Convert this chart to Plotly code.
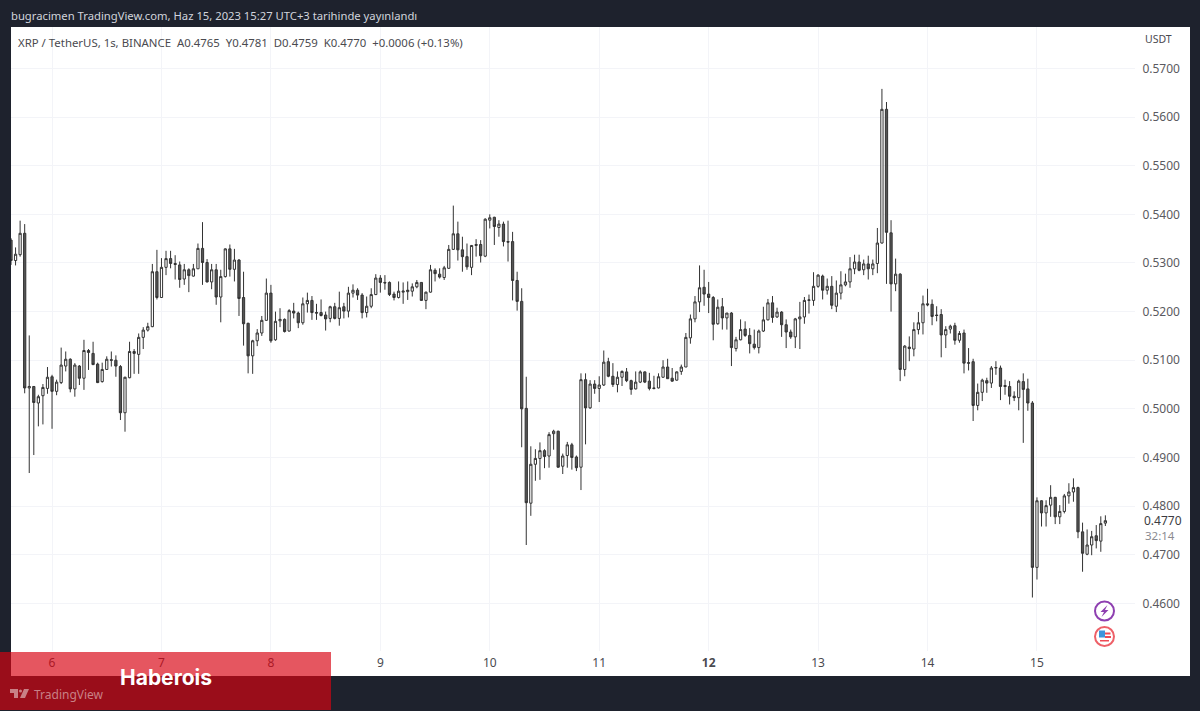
import pandas as pd
import plotly.graph_objects as go

# Hourly XRP/USDT candles, 5 Jun 2023 15:00 .. 15 Jun 2023 15:00
start_time = "2023-06-05 15:00"
open_ = [
0.5347,0.5305,0.5317,0.5361,0.5043,0.5046,0.5012,0.5027,0.5042,
0.5066,0.5036,0.5054,0.5088,0.5102,0.5041,0.5088,0.5063,0.5120,0.5114,0.5092,0.5056,0.5081,0.5101,0.5100,0.5087,0.4992,0.5064,0.5118,0.5112,0.5147,0.5162,0.5169,0.5282,
0.5229,0.5291,0.5309,0.5299,0.5296,0.5267,0.5286,0.5273,0.5288,0.5330,0.5301,0.5261,0.5286,0.5230,0.5272,0.5329,0.5287,0.5306,0.5229,0.5176,0.5109,0.5140,0.5156,0.5182,
0.5238,0.5142,0.5181,0.5184,0.5160,0.5201,0.5197,0.5177,0.5216,0.5223,0.5198,0.5198,0.5193,0.5186,0.5210,0.5186,0.5210,0.5201,0.5238,0.5244,0.5234,0.5198,0.5211,0.5235,
0.5269,0.5260,0.5260,0.5236,0.5229,0.5240,0.5241,0.5242,0.5251,0.5260,0.5223,0.5240,0.5285,0.5277,0.5270,0.5289,0.5328,0.5360,0.5327,0.5313,0.5291,0.5336,0.5338,0.5314,
0.5388,0.5394,0.5373,0.5380,0.5344,0.5344,0.5264,0.5221,0.5001,0.4806,0.4886,0.4898,0.4914,0.4903,0.4949,0.4954,0.4882,0.4904,0.4926,0.4901,0.4880,0.5060,0.5002,0.5051,
0.5042,0.5049,0.5097,0.5067,0.5050,0.5065,0.5076,0.5058,0.5041,0.5055,0.5076,0.5057,0.5043,0.5043,0.5065,0.5086,0.5063,0.5059,0.5077,0.5086,0.5146,0.5185,0.5220,0.5250,
0.5236,0.5229,0.5175,0.5210,0.5187,0.5197,0.5124,0.5142,0.5164,0.5151,0.5133,0.5126,0.5160,0.5183,0.5218,0.5189,0.5199,0.5173,0.5158,0.5148,0.5185,0.5189,0.5223,0.5223,
0.5252,0.5273,0.5244,0.5252,0.5211,0.5238,0.5255,0.5261,0.5288,0.5302,0.5286,0.5298,0.5288,0.5299,0.5341,0.5616,0.5362,0.5257,0.5277,0.5081,0.5127,0.5123,0.5163,0.5177,
0.5216,0.5215,0.5193,0.5194,0.5152,0.5164,0.5171,0.5141,0.5156,0.5095,0.5097,0.5007,0.5034,0.5058,0.5053,0.5084,0.5084,0.5048,0.5046,0.5026,0.5023,0.5056,0.5041,0.5012,
0.4674,0.4811,0.4786,0.4802,0.4818,0.4778,0.4789,0.4821,0.4829,0.4838,0.4747,0.4701,0.4720,0.4739,0.4728,0.4765,
]
high = [
0.5351,0.5332,0.5387,0.5380,0.5151,0.5047,0.5029,0.5051,0.5086,
0.5070,0.5060,0.5126,0.5118,0.5104,0.5094,0.5090,0.5142,0.5123,0.5138,0.5095,0.5095,0.5108,0.5118,0.5110,0.5090,0.5066,0.5138,0.5123,0.5155,0.5168,0.5177,0.5298,0.5327,
0.5310,0.5325,0.5325,0.5316,0.5303,0.5298,0.5289,0.5298,0.5340,0.5384,0.5308,0.5298,0.5298,0.5286,0.5330,0.5338,0.5329,0.5308,0.5282,0.5177,0.5142,0.5164,0.5191,0.5268,
0.5255,0.5200,0.5207,0.5186,0.5205,0.5218,0.5200,0.5229,0.5239,0.5232,0.5216,0.5225,0.5200,0.5212,0.5218,0.5241,0.5218,0.5251,0.5256,0.5248,0.5238,0.5231,0.5248,0.5277,
0.5275,0.5275,0.5262,0.5241,0.5262,0.5260,0.5262,0.5258,0.5265,0.5260,0.5241,0.5296,0.5289,0.5289,0.5294,0.5337,0.5418,0.5385,0.5354,0.5340,0.5337,0.5349,0.5347,0.5392,
0.5400,0.5395,0.5388,0.5385,0.5387,0.5364,0.5282,0.5248,0.5066,0.4923,0.4917,0.4931,0.4917,0.4952,0.4957,0.4955,0.4908,0.4932,0.4930,0.4904,0.5073,0.5073,0.5059,0.5059,
0.5067,0.5120,0.5105,0.5094,0.5077,0.5079,0.5084,0.5060,0.5077,0.5079,0.5077,0.5074,0.5068,0.5073,0.5100,0.5103,0.5084,0.5077,0.5091,0.5156,0.5194,0.5232,0.5295,0.5286,
0.5261,0.5232,0.5225,0.5228,0.5197,0.5199,0.5148,0.5184,0.5180,0.5166,0.5163,0.5163,0.5210,0.5226,0.5232,0.5208,0.5201,0.5184,0.5163,0.5187,0.5220,0.5230,0.5235,0.5281,
0.5277,0.5276,0.5268,0.5273,0.5264,0.5283,0.5278,0.5312,0.5317,0.5317,0.5307,0.5315,0.5307,0.5372,0.5658,0.5631,0.5388,0.5309,0.5279,0.5131,0.5149,0.5178,0.5199,0.5233,
0.5247,0.5225,0.5211,0.5205,0.5170,0.5173,0.5177,0.5160,0.5163,0.5125,0.5103,0.5052,0.5062,0.5064,0.5088,0.5098,0.5089,0.5060,0.5057,0.5036,0.5060,0.5073,0.5062,0.5016,
0.4818,0.4812,0.4812,0.4843,0.4819,0.4802,0.4825,0.4847,0.4857,0.4840,0.4766,0.4752,0.4749,0.4761,0.4779,0.4781,
]
low = [
0.5296,0.5295,0.5313,0.5032,0.4868,0.4905,0.4964,0.4968,0.5031,
0.4959,0.5028,0.5051,0.5077,0.5034,0.5025,0.5049,0.5039,0.5080,0.5090,0.5053,0.5054,0.5080,0.5087,0.5066,0.4977,0.4953,0.5063,0.5072,0.5072,0.5123,0.5159,0.5168,0.5225,
0.5229,0.5275,0.5289,0.5266,0.5249,0.5255,0.5240,0.5272,0.5288,0.5255,0.5260,0.5246,0.5214,0.5178,0.5270,0.5272,0.5262,0.5191,0.5130,0.5073,0.5072,0.5129,0.5150,0.5181,
0.5136,0.5140,0.5168,0.5157,0.5159,0.5186,0.5166,0.5173,0.5198,0.5183,0.5183,0.5190,0.5161,0.5178,0.5184,0.5171,0.5186,0.5188,0.5229,0.5224,0.5186,0.5188,0.5207,0.5234,
0.5239,0.5245,0.5232,0.5223,0.5227,0.5216,0.5224,0.5231,0.5248,0.5222,0.5205,0.5239,0.5262,0.5268,0.5265,0.5288,0.5327,0.5305,0.5282,0.5286,0.5275,0.5313,0.5301,0.5312,
0.5371,0.5337,0.5354,0.5334,0.5303,0.5223,0.5202,0.4921,0.4720,0.4780,0.4852,0.4854,0.4878,0.4879,0.4916,0.4879,0.4866,0.4879,0.4875,0.4872,0.4833,0.4927,0.5000,0.5031,
0.5014,0.5047,0.5065,0.5045,0.5034,0.5047,0.5055,0.5029,0.5040,0.5053,0.5053,0.5038,0.5040,0.5042,0.5064,0.5062,0.5056,0.5058,0.5070,0.5086,0.5134,0.5178,0.5199,0.5212,
0.5197,0.5141,0.5173,0.5163,0.5163,0.5088,0.5118,0.5141,0.5148,0.5114,0.5122,0.5114,0.5158,0.5182,0.5177,0.5187,0.5148,0.5125,0.5144,0.5125,0.5123,0.5175,0.5196,0.5212,
0.5249,0.5225,0.5235,0.5205,0.5199,0.5225,0.5252,0.5249,0.5277,0.5283,0.5275,0.5266,0.5275,0.5279,0.5340,0.5257,0.5200,0.5242,0.5057,0.5067,0.5098,0.5108,0.5153,0.5153,
0.5211,0.5172,0.5180,0.5106,0.5125,0.5155,0.5132,0.5136,0.5073,0.5079,0.4975,0.4997,0.5016,0.5033,0.5043,0.5070,0.5018,0.5029,0.5009,0.5016,0.4997,0.4930,0.4996,0.4612,
0.4649,0.4758,0.4758,0.4778,0.4763,0.4763,0.4785,0.4805,0.4809,0.4734,0.4665,0.4699,0.4699,0.4713,0.4706,0.4759,
]
close = [
0.5305,0.5318,0.5361,0.5043,0.5046,0.5013,0.5025,0.5044,0.5065,
0.5036,0.5055,0.5090,0.5102,0.5041,0.5090,0.5063,0.5120,0.5116,0.5091,0.5054,0.5081,0.5102,0.5100,0.5088,0.4992,0.5065,0.5118,0.5114,0.5147,0.5162,0.5169,0.5282,0.5229,
0.5291,0.5309,0.5299,0.5297,0.5266,0.5286,0.5274,0.5288,0.5330,0.5301,0.5261,0.5286,0.5230,0.5272,0.5329,0.5287,0.5306,0.5227,0.5175,0.5109,0.5140,0.5156,0.5182,0.5238,
0.5140,0.5180,0.5184,0.5159,0.5202,0.5197,0.5177,0.5216,0.5223,0.5198,0.5197,0.5192,0.5185,0.5210,0.5186,0.5208,0.5201,0.5238,0.5244,0.5234,0.5198,0.5211,0.5235,0.5269,
0.5260,0.5259,0.5235,0.5229,0.5242,0.5242,0.5244,0.5251,0.5260,0.5223,0.5240,0.5286,0.5278,0.5271,0.5290,0.5328,0.5360,0.5327,0.5313,0.5292,0.5336,0.5338,0.5315,0.5390,
0.5393,0.5375,0.5380,0.5344,0.5343,0.5264,0.5221,0.5000,0.4807,0.4886,0.4898,0.4914,0.4902,0.4947,0.4954,0.4880,0.4903,0.4926,0.4900,0.4879,0.5060,0.5002,0.5051,0.5042,
0.5049,0.5096,0.5067,0.5050,0.5065,0.5077,0.5058,0.5040,0.5055,0.5076,0.5055,0.5042,0.5042,0.5066,0.5086,0.5062,0.5057,0.5076,0.5086,0.5147,0.5185,0.5220,0.5249,0.5236,
0.5229,0.5174,0.5209,0.5187,0.5197,0.5126,0.5142,0.5163,0.5151,0.5134,0.5126,0.5160,0.5183,0.5218,0.5188,0.5199,0.5173,0.5158,0.5148,0.5185,0.5189,0.5223,0.5224,0.5252,
0.5275,0.5244,0.5252,0.5213,0.5238,0.5255,0.5261,0.5288,0.5302,0.5285,0.5298,0.5288,0.5298,0.5341,0.5616,0.5363,0.5257,0.5277,0.5081,0.5129,0.5124,0.5163,0.5177,0.5216,
0.5214,0.5190,0.5192,0.5152,0.5163,0.5170,0.5141,0.5155,0.5094,0.5094,0.5007,0.5034,0.5059,0.5053,0.5084,0.5085,0.5046,0.5046,0.5026,0.5023,0.5057,0.5040,0.5012,0.4674,
0.4811,0.4786,0.4801,0.4818,0.4778,0.4789,0.4821,0.4829,0.4838,0.4747,0.4703,0.4720,0.4737,0.4729,0.4764,0.4770,
]
day_ticks = ["2023-06-%02d" % d for d in range(6, 16)]
day_labels = ["6", "7", "8", "9", "10", "11", "<b>12</b>", "13", "14", "15"]
price_ticks = [0.46, 0.47, 0.48, 0.49, 0.50, 0.51, 0.52, 0.53, 0.54, 0.55, 0.56, 0.57]

times = pd.date_range(start_time, periods=len(close), freq="h")

FONT = "Noto Sans"
DARK = "#1e222d"
L, R, T, B = 11, 1135, 27, 651


def px(x):
    return (x - L) / (R - L)


def py(y):
    return 1 - (y - T) / (B - T)


def paper_path(points):
    return "M" + " L".join(f"{px(a):.5f},{py(b):.5f}" for a, b in points) + " Z"


def rect(x0, y0, x1, y1, fill, layer="above"):
    return dict(type="rect", xref="paper", yref="paper", x0=px(x0), x1=px(x1), y0=py(y0), y1=py(y1),
                fillcolor=fill, line_width=0, layer=layer)


def circle(cx, cy, r, fill, line, w=2):
    return dict(type="circle", xref="paper", yref="paper", x0=px(cx - r), x1=px(cx + r), y0=py(cy - r), y1=py(cy + r),
                fillcolor=fill, line=dict(color=line, width=w), layer="above")


def poly(points, fill):
    return dict(type="path", xref="paper", yref="paper", path=paper_path(points), fillcolor=fill, line_width=0, layer="above")


def text(x, y, s, size, color, anchor="left", family=FONT):
    return dict(xref="paper", yref="paper", x=px(x), y=py(y), text=s, showarrow=False, xanchor=anchor, yanchor="middle",
                font=dict(family=family, size=size, color=color))


fig = go.Figure(go.Candlestick(
    x=times, open=open_, high=high, low=low, close=close,
    increasing=dict(line=dict(color="#333333", width=1), fillcolor="#ffffff"),
    decreasing=dict(line=dict(color="#333333", width=1), fillcolor="#555555"),
    whiskerwidth=0, showlegend=False, hoverinfo="skip",
))

shapes = [
    rect(11, 27, 1190, 676, "#ffffff", layer="below"),
    # purple lightning badge
    circle(1104.5, 611, 9.5, "#ffffff", "#8e3fb0"),
    poly([(1107.5, 605), (1100.5, 612), (1104, 612), (1101.5, 617), (1108.5, 610), (1105, 610)], "#8e3fb0"),
    # US economic event badge
    circle(1104.5, 636.5, 9.5, "#ffffff", "#ee6068"),
    rect(1105, 632.5, 1110.5, 634.5, "#ee4a55"),
    rect(1105, 636, 1111, 638, "#ee4a55"),
    rect(1099, 630.5, 1105, 637.5, "#3d95dc"),
    rect(1100, 640, 1109, 641.5, "#ee4a55"),
    # red publisher banner
    rect(0, 652, 331, 710, "rgba(216,3,18,0.67)"),
    # TradingView logo
    poly([(10, 689), (18, 689), (18, 698), (14, 698), (14, 693), (10, 693)], "#c98086"),
    circle(20.5, 691, 1.5, "#c98086", "#c98086", 0),
    poly([(24, 689), (29, 689), (25, 698), (20, 698)], "#c98086"),
]

annotations = [
    text(9, 15, "bugracimen TradingView.com, Haz 15, 2023 15:27 UTC+3 tarihinde yayınlandı", 11.25, "#d1d4dc"),
    text(16, 42, "XRP / TetherUS, 1s, BINANCE&nbsp;&nbsp;A0.4765&nbsp;&nbsp;Y0.4781&nbsp;&nbsp;D0.4759&nbsp;&nbsp;K0.4770&nbsp;&nbsp;+0.0006 (+0.13%)", 11.4, "#4a4a4f"),
    text(1158, 39, "USDT", 10.5, "#4a4a4f", anchor="center"),
    text(1142, 520.5, "0.4770", 12, "#3c3c42"),
    text(1143, 535, "32:14", 11.5, "#8a8a90"),
    text(166, 677, "<b>Haberois</b>", 21, "#ffffff", anchor="center", family="Inter"),
    text(32, 694, "TradingView", 12, "#c98086"),
]

fig.update_layout(
    width=1200, height=711,
    margin=dict(l=L, r=1200 - R, t=T, b=711 - B, pad=0),
    paper_bgcolor=DARK, plot_bgcolor="#ffffff",
    font=dict(family=FONT, size=11.5, color="#4a4a4f"),
    shapes=shapes, annotations=annotations,
    showlegend=False,
    xaxis=dict(
        rangeslider=dict(visible=False), type="date",
        range=["2023-06-05 15:00", "2023-06-15 21:30"],
        tickmode="array", tickvals=day_ticks, ticktext=day_labels,
        showgrid=True, gridcolor="#f3f4f8", gridwidth=1, zeroline=False, showline=False,
        ticks="outside", ticklen=1, tickcolor="rgba(0,0,0,0)", tickfont=dict(size=12, color="#4a4a4f"),
    ),
    yaxis=dict(
        side="right", range=[0.4502, 0.57853],
        tickmode="array", tickvals=price_ticks, ticktext=[f"{p:.4f}" for p in price_ticks],
        showgrid=True, gridcolor="#f3f4f8", gridwidth=1, zeroline=False, showline=False,
        ticks="outside", ticklen=4, tickcolor="rgba(0,0,0,0)", tickfont=dict(size=12, color="#5a5a60"),
    ),
)

fig.write_html("out.html", config=dict(displayModeBar=False),
               post_script="document.body.style.margin='0';document.body.style.overflow='hidden';")
